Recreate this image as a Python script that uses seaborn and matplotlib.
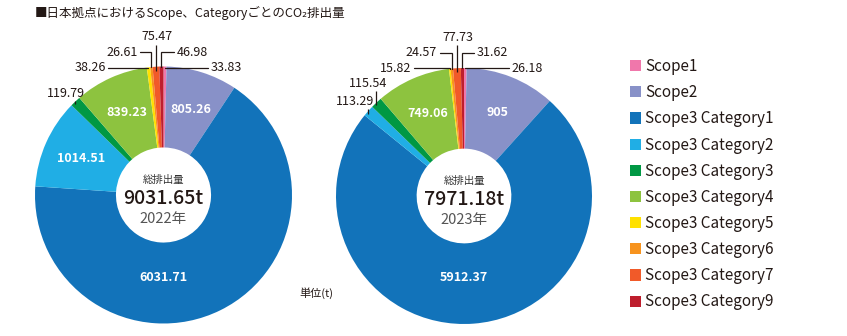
import numpy as np
import matplotlib
matplotlib.use("Agg")
import matplotlib.pyplot as plt
from matplotlib.patches import Patch
import seaborn as sns

# ---- data -------------------------------------------------------------
CATEGORIES = [
    "Scope1", "Scope2",
    "Scope3 Category1", "Scope3 Category2", "Scope3 Category3",
    "Scope3 Category4", "Scope3 Category5", "Scope3 Category6",
    "Scope3 Category7", "Scope3 Category9",
]
COLORS = [
    "#F077AB", "#8891C8", "#1273BA", "#20AEE5", "#009844",
    "#8DC33F", "#FFE100", "#F7931E", "#F15A29", "#BE1E2D",
]
VALUES_2022 = [33.83, 805.26, 6031.71, 1014.51, 119.79,
               839.23, 38.26, 26.61, 75.47, 46.98]
VALUES_2023 = [26.18, 905, 5912.37, 113.29, 115.54,
               749.06, 15.82, 24.57, 77.73, 31.62]
YEARS = ["2022年", "2023年"]

TITLE = "■日本拠点におけるScope、CategoryごとのCO₂排出量"
UNIT = "単位(t)"
TOTAL_CAPTION = "総排出量"

# Outside labels: (placement, x, y) in pie units (radius = 1)
#   "left"/"right": label beside a horizontal leader that bends down to the wedge
#   "up": label above a vertical leader; x is the offset from the leader
OUTSIDE_2022 = {
    "Scope1": ("right", 0.37, 0.99),
    "Scope3 Category5": ("left", -0.45, 0.99),
    "Scope3 Category6": ("left", -0.20, 1.11),
    "Scope3 Category7": ("up", 0.01, 1.18),
    "Scope3 Category9": ("right", 0.10, 1.11),
    "Scope3 Category3": ("up", -0.07, 0.74),
}
OUTSIDE_2023 = {
    "Scope1": ("right", 0.37, 1.00),
    "Scope3 Category5": ("left", -0.41, 1.00),
    "Scope3 Category6": ("left", -0.21, 1.12),
    "Scope3 Category7": ("up", 0.01, 1.19),
    "Scope3 Category2": ("up", -0.10, 0.69),
    "Scope3 Category3": ("up", -0.065, 0.83),
    "Scope3 Category9": ("right", 0.10, 1.12),
}
# the large wedge carries its value straight below the centre
INSIDE_ANGLE = {"Scope3 Category1": -90.0}

# ---- style ------------------------------------------------------------
sns.set_theme(style="white")
plt.rcParams["font.family"] = ["Noto Sans CJK JP", "DejaVu Sans"]
INK = "#231815"

W, H = 847, 336
fig = plt.figure(figsize=(W / 100, H / 100), dpi=100)
fig.patch.set_facecolor("white")

palette = sns.color_palette(COLORS)
LIM = 1.3


def pie_axes(cx, cy, r):
    half = r * LIM
    ax = fig.add_axes([(cx - half) / W, (H - cy - half) / H, 2 * half / W, 2 * half / H])
    ax.axis("off")
    return ax


def fmt(v):
    return f"{v:g}"


def draw_donut(ax, values, year, outside):
    wedges, _ = ax.pie(values, colors=palette, startangle=90, counterclock=False,
                       radius=1.0, wedgeprops=dict(width=0.63, linewidth=0))
    # pie() resets the limits; fix them so radius 1 maps to the axes scale
    ax.set_xlim(-LIM, LIM)
    ax.set_ylim(-LIM, LIM)
    ax.set_aspect("equal")
    for name, v, w in zip(CATEGORIES, values, wedges):
        mid = np.deg2rad((w.theta1 + w.theta2) / 2)
        xe, ye = np.cos(mid), np.sin(mid)
        if name in outside:
            kind, lx, ly = outside[name]
            if kind == "up":
                ax.text(xe + lx, ly, fmt(v), ha="center", va="bottom",
                        fontsize=9, color=INK)
                ax.plot([xe, xe], [ly - 0.01, ye * 0.97], color=INK, lw=0.9,
                        clip_on=False, solid_capstyle="butt")
            else:
                gap = 0.02
                if kind == "left":
                    ax.text(lx, ly, fmt(v), ha="right", va="center", fontsize=9, color=INK)
                    x0 = lx + gap
                else:
                    ax.text(lx, ly, fmt(v), ha="left", va="center", fontsize=9, color=INK)
                    x0 = lx - gap
                ax.plot([x0, xe, xe], [ly, ly, min(ye, ly)], color=INK, lw=0.9,
                        clip_on=False, solid_joinstyle="miter")
        else:
            if name in INSIDE_ANGLE:
                a = np.deg2rad(INSIDE_ANGLE[name])
                r = 0.64
            else:
                a = mid
                r = 0.70
            ax.text(r * np.cos(a), r * np.sin(a), fmt(v), ha="center", va="center",
                    fontsize=9, color="white", fontweight="bold")

    total = sum(values)
    ax.text(0, 0.12, TOTAL_CAPTION, ha="center", va="center", fontsize=7.5, color="#333333")
    ax.text(0, -0.03, f"{total:.2f}t", ha="center", va="center", fontsize=14,
            color=INK, fontweight="medium")
    ax.text(0, -0.19, year, ha="center", va="center", fontsize=10.5, color="#555555")


ax1 = pie_axes(163.5, 195, 128.5)
draw_donut(ax1, VALUES_2022, YEARS[0], OUTSIDE_2022)
ax2 = pie_axes(464, 196, 128)
draw_donut(ax2, VALUES_2023, YEARS[1], OUTSIDE_2023)

fig.text(35 / W, 1 - 13 / H, TITLE, ha="left", va="center", fontsize=9, color=INK)
fig.text(316 / W, 1 - 293 / H, UNIT, ha="center", va="center", fontsize=8, color=INK)

handles = [Patch(facecolor=c, edgecolor="none") for c in palette]
fig.legend(handles, CATEGORIES, loc="upper left", bbox_to_anchor=(630 / W, 1 - 58 / H),
           frameon=False, fontsize=11, handlelength=0.75, handleheight=0.75,
           handletextpad=0.25, labelspacing=0.6, borderaxespad=0, borderpad=0,
           labelcolor=INK)

fig.savefig("out.png", dpi=100, facecolor="white")
